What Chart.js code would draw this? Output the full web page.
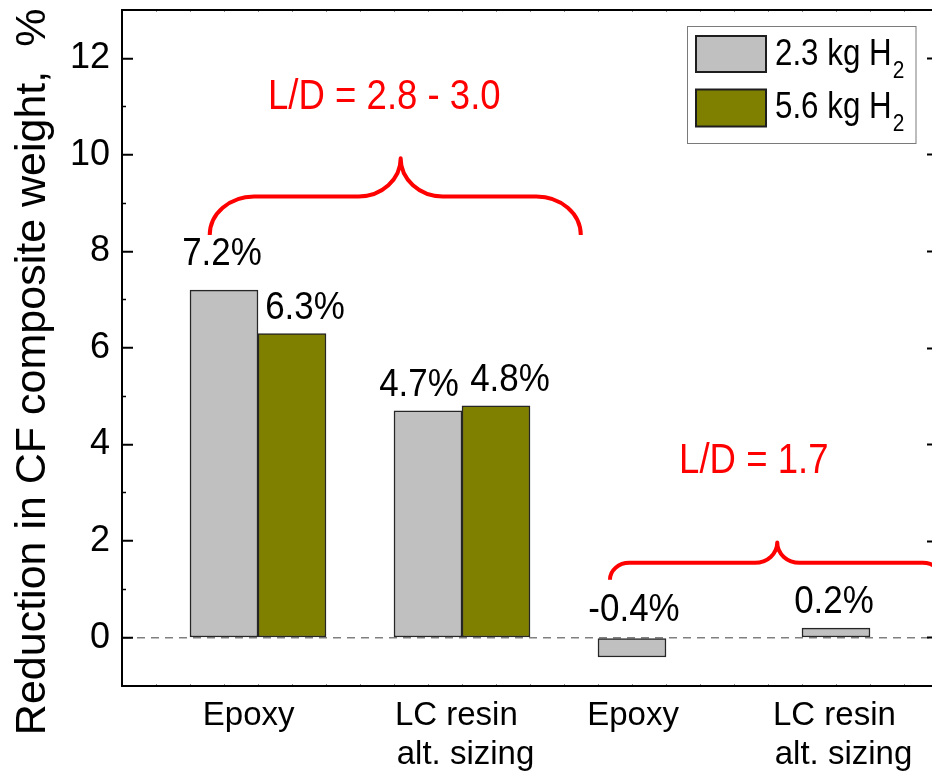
<!DOCTYPE html>
<html>
<head>
  <title>Reduction in CF composite weight</title>
  <script src="https://cdn.jsdelivr.net/npm/chart.js"></script>
  <style>
    html, body { margin: 0; padding: 0; overflow: hidden; background: #fff; }
    #wrap { width: 940px; height: 778px; }
  </style>
</head>
<body>
  <!-- the plot frame runs a few px past the right edge of the window, like the original -->
  <div id="wrap"><canvas id="barChart"></canvas></div>

  <script>
    // values
    const categories = ['Epoxy', ['LC resin', 'alt. sizing'], 'Epoxy', ['LC resin', 'alt. sizing']];
    const seriesNames = ['2.3 kg H\u2082', '5.6 kg H\u2082'];
    const light = [7.2, 4.7, -0.4, 0.2];     // 2.3 kg H2
    const heavy = [6.3, 4.8, null, null];    // 5.6 kg H2
    const yTicks = [0, 2, 4, 6, 8, 10, 12];
    const yMinorTicks = [1, 3, 5, 7, 9, 11];
    const groupNotes = ['L/D = 2.8 - 3.0', 'L/D = 1.7'];

    const FONT = "'Liberation Sans', Arial, sans-serif";
    Chart.defaults.font.family = FONT;
    Chart.defaults.color = '#000';

    // text in the figure is a bit narrower than Arial, squeeze it horizontally
    function squeezedText(ctx, text, x, y, sx) {
      ctx.save();
      ctx.translate(x, y);
      ctx.scale(sx, 1);
      ctx.fillText(text, 0, 0);
      ctx.restore();
    }

    // value labels, braces, group notes and the boxed legend
    const overlay = {
      id: 'overlay',
      afterDatasetsDraw(chart, args, opts) {
        const { ctx, chartArea } = chart;
        const xs = chart.scales.xl, ys = chart.scales.y;

        // value labels
        ctx.fillStyle = '#000';
        ctx.textAlign = 'center';
        ctx.textBaseline = 'alphabetic';
        ctx.font = '38px ' + FONT;
        [1, 2].forEach((di, k) => {
          const ds = chart.data.datasets[di];
          chart.getDatasetMeta(di).data.forEach((bar, i) => {
            const v = ds.data[i];
            if (v === null || v === undefined) return;
            const [dx, gap] = opts.labelShift[k][i];
            const top = ys.getPixelForValue(Math.max(v, 0));
            squeezedText(ctx, v.toFixed(1) + '%', bar.x + dx, top - gap, 0.92);
          });
        });

        // braces over the groups
        ctx.save();
        ctx.strokeStyle = '#ff0000';
        ctx.lineWidth = 4;
        ctx.lineJoin = 'round';
        const k = 0.552;
        opts.braces.forEach(b => {
          const X0 = xs.getPixelForValue(b.x0), XM = xs.getPixelForValue(b.xm), X1 = xs.getPixelForValue(b.x1);
          const YE = ys.getPixelForValue(b.yEnd), YF = ys.getPixelForValue(b.yFlat), YT = ys.getPixelForValue(b.yTip);
          const ry1 = YE - YF, rx1 = ry1 * 1.15;
          const ry2 = YF - YT, rx2 = ry2 * 1.1;
          ctx.beginPath();
          ctx.moveTo(X0, YE);
          ctx.bezierCurveTo(X0, YE - k * ry1, X0 + rx1 - k * rx1, YF, X0 + rx1, YF);
          ctx.lineTo(XM - rx2, YF);
          ctx.bezierCurveTo(XM - rx2 + k * rx2, YF, XM, YT + k * ry2, XM, YT);
          ctx.bezierCurveTo(XM, YT + k * ry2, XM + rx2 - k * rx2, YF, XM + rx2, YF);
          ctx.lineTo(X1 - rx1, YF);
          ctx.bezierCurveTo(X1 - rx1 + k * rx1, YF, X1, YE - k * ry1, X1, YE);
          ctx.stroke();
        });
        ctx.restore();

        // group notes
        ctx.fillStyle = '#ff0000';
        ctx.font = '43px ' + FONT;
        opts.notes.forEach((n, i) => {
          squeezedText(ctx, groupNotes[i], xs.getPixelForValue(n.x), ys.getPixelForValue(n.y), 0.85);
        });

        // legend box
        const lx = chartArea.right - 250.5, ly = chartArea.top + 16.5;
        ctx.save();
        ctx.strokeStyle = '#7a7a7a';
        ctx.lineWidth = 1;
        ctx.strokeRect(lx, ly, 228.5, 117);
        const rows = [{ sy: 9.5, sh: 36, base: 38.5 }, { sy: 63, sh: 37, base: 91.8 }];
        rows.forEach((r, i) => {
          const ds = chart.data.datasets[i + 1];
          ctx.fillStyle = ds.backgroundColor;
          ctx.fillRect(lx + 8.5, ly + r.sy, 70, r.sh);
          ctx.strokeStyle = '#1e1e1e';
          ctx.lineWidth = 2;
          ctx.strokeRect(lx + 8.5, ly + r.sy, 70, r.sh);

          const m = seriesNames[i].match(/^(.*?)([\u2080-\u2089]*)$/);
          const sub = m[2].split('').map(c => String.fromCharCode(c.charCodeAt(0) - 0x2080 + 48)).join('');
          ctx.fillStyle = '#000';
          ctx.textAlign = 'left';
          ctx.font = '36px ' + FONT;
          const tx = lx + 87.5, ty = ly + r.base;
          squeezedText(ctx, m[1], tx, ty, 0.87);
          const w = ctx.measureText(m[1]).width * 0.87;
          ctx.font = '24px ' + FONT;
          squeezedText(ctx, sub, tx + w + 1, ty + 13, 0.87);
        });
        ctx.restore();
      }
    };

    const ctx = document.getElementById('barChart').getContext('2d');
    const myChart = new Chart(ctx, {
      type: 'bar',
      data: {
        labels: categories,
        datasets: [
          // empty first slot in every group, so the grey bar lands in the middle third
          { label: '', data: categories.map(() => null), xAxisID: 'x', yAxisID: 'y' },
          {
            label: seriesNames[0], data: light, xAxisID: 'x', yAxisID: 'y',
            backgroundColor: '#c0c0c0', borderColor: '#262626', borderWidth: 1.5, borderSkipped: false
          },
          {
            label: seriesNames[1], data: heavy, xAxisID: 'x', yAxisID: 'y',
            backgroundColor: '#808000', borderColor: '#262626', borderWidth: 1.5, borderSkipped: false
          }
        ]
      },
      options: {
        responsive: true,
        maintainAspectRatio: false,
        animation: false,
        layout: { padding: { top: 10, right: 2, left: 0, bottom: 0 } },
        datasets: { bar: { categoryPercentage: 1, barPercentage: 1 } },
        plugins: {
          legend: { display: false },
          tooltip: { enabled: false },
          overlay: {
            labelShift: [
              [[-2, 25], [-9, 15], [2, 17], [-2, 15]],
              [[13, 15], [14, 15], null, null]
            ],
            braces: [
              { x0: -0.07, xm: 0.866, x1: 1.749, yEnd: 8.34, yFlat: 9.14, yTip: 9.93 },
              { x0: 1.892, xm: 2.712, x1: 3.52, yEnd: 1.2, yFlat: 1.55, yTip: 1.97 }
            ],
            notes: [{ x: 0.786, y: 10.96 }, { x: 2.597, y: 3.41 }]
          }
        },
        scales: {
          x: { type: 'category', display: false, offset: true },
          // category labels, placed like in the original figure
          xl: {
            type: 'linear', axis: 'x', position: 'bottom', weight: 1, min: -0.5, max: 3.5, offset: false,
            afterBuildTicks: s => { s.ticks = [0.121, 1.184, 2.005, 3.037].map(v => ({ value: v })); },
            afterFit: s => { s.height = 92; s.paddingLeft = 0; s.paddingRight = 0; },
            border: { display: false },
            grid: { offset: false, drawOnChartArea: false, drawTicks: false },
            ticks: {
              padding: 10, autoSkip: false, maxRotation: 0, font: { size: 33 }, color: '#000',
              callback: (v, i) => Array.isArray(categories[i])
                ? categories[i].map((l, j) => j === 0 ? l + '\u00a0\u00a0' : l)
                : categories[i]
            }
          },
          xb: {
            type: 'linear', axis: 'x', position: 'bottom', weight: 0, min: 0, max: 24, offset: false,
            afterFit: s => { s.height = 0; s.paddingLeft = 0; s.paddingRight = 0; },
            border: { color: '#000', width: 2 },
            grid: { offset: false, drawOnChartArea: false, tickLength: -2, tickColor: '#8c8c8c', tickWidth: 1 },
            ticks: { display: false, stepSize: 1 }
          },
          xt: {
            type: 'linear', axis: 'x', position: 'top', min: 0, max: 24, offset: false,
            afterFit: s => { s.height = 0; s.paddingLeft = 0; s.paddingRight = 0; },
            border: { color: '#000', width: 2 },
            grid: { offset: false, drawOnChartArea: false, tickLength: -2, tickColor: '#8c8c8c', tickWidth: 1 },
            ticks: { display: false, stepSize: 1 }
          },
          y: {
            type: 'linear', position: 'left', weight: 1, min: -1, max: 13,
            afterBuildTicks: s => { s.ticks = yTicks.map(v => ({ value: v })); },
            afterFit: s => { s.width = 122; s.paddingTop = 0; s.paddingBottom = 0; },
            // border.dash dashes the grid lines; only the zero line is visible
            border: { color: '#000', width: 2, dash: [8, 6] },
            grid: {
              color: c => (c.tick && c.tick.value === 0) ? '#808080' : 'rgba(0,0,0,0)',
              lineWidth: 1.5, tickLength: -11, tickColor: '#000', tickWidth: 2
            },
            ticks: { padding: 23, font: { size: 36 }, color: '#000' },
            title: {
              display: true,
              text: 'Reduction in CF composite weight,  %    ',
              font: { size: 43 }, color: '#000',
              padding: { top: 7, bottom: 0 }
            }
          },
          ym: {
            type: 'linear', axis: 'y', position: 'left', weight: 0, min: -1, max: 13,
            afterBuildTicks: s => { s.ticks = yMinorTicks.map(v => ({ value: v })); },
            afterFit: s => { s.width = 0; s.paddingTop = 0; s.paddingBottom = 0; },
            border: { display: false },
            grid: { drawOnChartArea: false, tickLength: -4, tickColor: '#000', tickWidth: 1.5 },
            ticks: { display: false }
          },
          yr: {
            type: 'linear', axis: 'y', position: 'right', min: -1, max: 13,
            afterBuildTicks: s => { s.ticks = yTicks.map(v => ({ value: v })); },
            afterFit: s => { s.width = 0; s.paddingTop = 0; s.paddingBottom = 0; },
            border: { color: '#000', width: 2 },
            grid: { drawOnChartArea: false, tickLength: -11, tickColor: '#000', tickWidth: 2 },
            ticks: { display: false }
          }
        }
      },
      plugins: [overlay]
    });
  </script>
</body>
</html>
